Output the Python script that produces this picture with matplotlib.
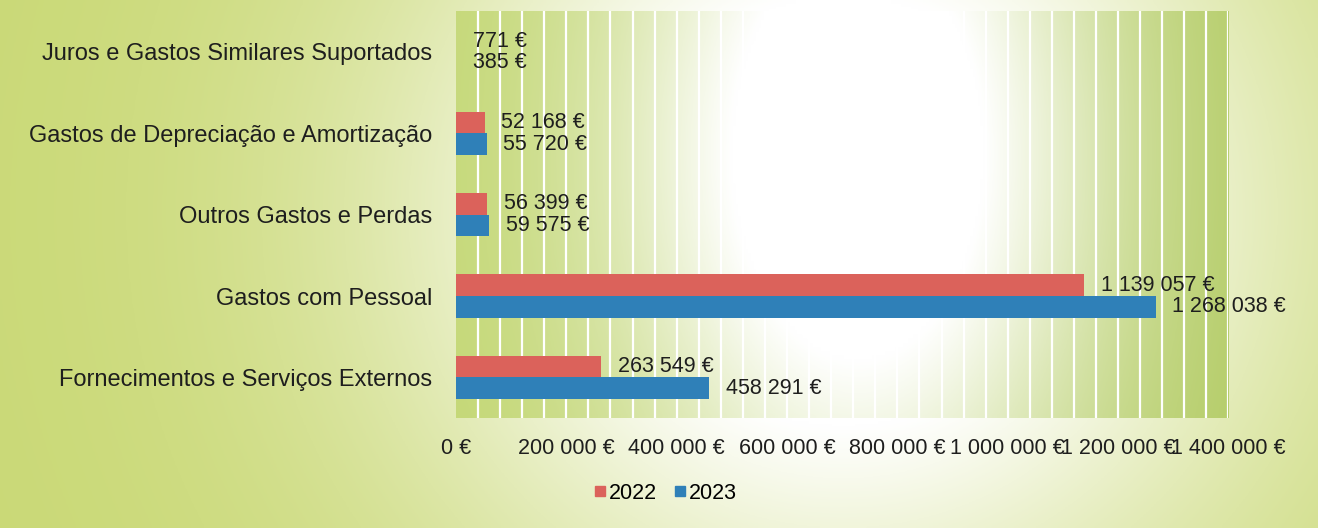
import numpy as np
import matplotlib.pyplot as plt
from matplotlib.lines import Line2D

categorias = ['Fornecimentos e Serviços Externos', 'Gastos com Pessoal',
              'Outros Gastos e Perdas', 'Gastos de Depreciação e Amortização',
              'Juros e Gastos Similares Suportados']
v2022 = [263549, 1139057, 56399, 52168, 771]
v2023 = [458291, 1268038, 59575, 55720, 385]
anos = ['2022', '2023']
xticks = [0, 200000, 400000, 600000, 800000, 1000000, 1200000, 1400000]

cor22 = '#db625b'
cor23 = '#2f80b8'

plt.rcParams['font.family'] = ['Liberation Sans', 'DejaVu Sans']
fs = 15.5

def eur(v):
    return '{:,}'.format(int(v)).replace(',', ' ') + ' €'

fig = plt.figure(figsize=(13.18, 5.28), dpi=100)

# fundo (gradiente verde-amarelo com brilho branco)
bg = fig.add_axes([0, 0, 1, 1], zorder=-10)
xx, yy = np.meshgrid(np.linspace(0, 1, 400), np.linspace(0, 1, 200))
verde = np.array([0.79, 0.85, 0.46])
w = np.exp(-(((xx - 0.64) / 0.33) ** 2 + ((yy - 0.4) / 0.8) ** 2))
w = np.clip(w * 1.3, 0, 1)[..., None]
img = verde * (1 - w) + 1.0 * w
bg.imshow(img, extent=[0, 1, 0, 1], aspect='auto', origin='upper')
bg.axis('off')

ax = fig.add_axes([0.346, 0.208, 0.586, 0.771])
ax.patch.set_alpha(0)

# preenchimento da área do gráfico
fx, fy = np.meshgrid(np.linspace(0, 1, 300), np.linspace(0, 1, 100))
esq = np.array([0.76, 0.84, 0.44])
dir_ = np.array([0.69, 0.79, 0.37])
base = esq * (1 - fx[..., None]) + dir_ * fx[..., None]
w2 = np.exp(-(((fx - 0.52) / 0.32) ** 2 + ((fy - 0.35) / 1.0) ** 2))
w2 = np.clip(w2 * 1.3, 0, 1)[..., None]
img2 = base * (1 - w2) + 1.0 * w2
ax.imshow(img2, extent=[0, 1400000, -0.5, 4.5], aspect='auto', origin='upper', zorder=0)

for g in range(40000, 1400001, 40000):
    ax.axvline(g, color='white', lw=1.6, zorder=1)

y = np.arange(len(categorias))
h = 0.265
ax.barh(y + h / 2, v2022, height=h, color=cor22, zorder=3)
ax.barh(y - h / 2, v2023, height=h, color=cor23, zorder=3)

for i in range(len(categorias)):
    ax.annotate(eur(v2022[i]), (v2022[i], y[i] + h / 2), xytext=(12, 0),
                textcoords='offset points', va='center', fontsize=fs, color='#1e1e1e')
    ax.annotate(eur(v2023[i]), (v2023[i], y[i] - h / 2), xytext=(12, 0),
                textcoords='offset points', va='center', fontsize=fs, color='#1e1e1e')

ax.set_xlim(0, 1400000)
ax.set_ylim(-0.5, 4.5)
ax.set_yticks(y)
ax.set_yticklabels(categorias, fontsize=17, color='#1e1e1e')
ax.set_xticks(xticks)
ax.set_xticklabels([eur(t) for t in xticks], fontsize=fs, color='#1e1e1e')
ax.tick_params(length=0)
ax.tick_params(axis='y', pad=17)
ax.tick_params(axis='x', pad=14)
for s in ax.spines.values():
    s.set_visible(False)

handles = [Line2D([], [], marker='s', ls='', color=cor22, markersize=7.5),
           Line2D([], [], marker='s', ls='', color=cor23, markersize=7.5)]
fig.legend(handles, anos, loc='center', bbox_to_anchor=(0.503, 0.066), ncol=2,
           frameon=False, fontsize=fs, handletextpad=-0.1, columnspacing=0.6,
           handlelength=1.0)

fig.savefig('out.png', dpi=100)
